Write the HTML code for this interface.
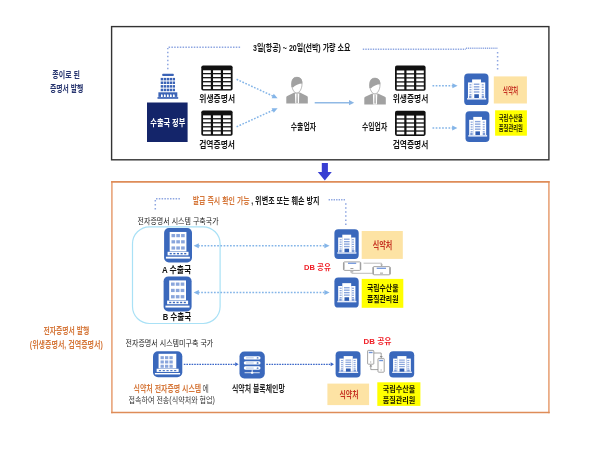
<!DOCTYPE html>
<html lang="ko"><head><meta charset="utf-8"><title>전자증명서 발행</title>
<style>
html,body{margin:0;padding:0;background:#fff;font-family:"Liberation Sans","Noto Sans CJK KR",sans-serif;}
body{width:600px;height:454px;overflow:hidden;}
svg{display:block;filter:blur(0.7px);}
svg text{font-family:"Liberation Sans","Noto Sans CJK KR",sans-serif;}
</style></head><body>
<svg role="img" aria-label="종이로 된 증명서 발행 / 전자증명서 발행 (위생증명서, 검역증명서)" width="600" height="454" viewBox="0 0 600 454">
<rect width="600" height="454" fill="#fff"/>
<rect x="111.6" y="26.6" width="437.3" height="133.2" fill="#fff" stroke="#333" stroke-width="1.4"/>
<path d="M111.9 181.2V413.2M548.9 181.2V413.2" stroke="#e8a47a" stroke-width="1.6" fill="none"/>
<path d="M111.1 181.9H549.7M111.1 412.5H549.7" stroke="#de8c58" stroke-width="1.6" fill="none"/>
<text x="66.2" y="77.8" font-size="9.3" font-weight="bold" fill="#27356f" text-anchor="middle" textLength="27.7" lengthAdjust="spacingAndGlyphs">종이로 된</text>
<text x="66.7" y="91.8" font-size="9.3" font-weight="bold" fill="#27356f" text-anchor="middle" textLength="33.4" lengthAdjust="spacingAndGlyphs">증명서 발행</text>
<text x="66.3" y="334.3" font-size="9" font-weight="bold" fill="#d6793d" text-anchor="middle" textLength="45.8" lengthAdjust="spacingAndGlyphs">전자증명서 발행</text>
<text x="66.3" y="348" font-size="9" font-weight="bold" fill="#d6793d" text-anchor="middle" textLength="73" lengthAdjust="spacingAndGlyphs">(위생증명서, 검역증명서)</text>
<path d="M167.8 69.35V48" fill="none" stroke="#8ea6e1" stroke-width="1.5" stroke-dasharray="1.5 2.5"/>
<path d="M168.6 47.3H240.5" fill="none" stroke="#8ea6e1" stroke-width="1.5" stroke-dasharray="1.5 1.3"/>
<path d="M362.8 49.2H466" fill="none" stroke="#8ea6e1" stroke-width="1.5" stroke-dasharray="1.4 1.1"/>
<path d="M466 48.3H497.4" fill="none" stroke="#8ea6e1" stroke-width="1.5" stroke-dasharray="1.1 0.8"/>
<path d="M497.6 52.05V72" fill="none" stroke="#8ea6e1" stroke-width="1.5" stroke-dasharray="1.5 2.5"/>
<text x="301.7" y="51" font-size="9" font-weight="bold" fill="#111" text-anchor="middle" textLength="97.4" lengthAdjust="spacingAndGlyphs">3일(항공) ~ 20일(선박) 가량 소요</text>
<rect x="162.2" y="73.7" width="11.6" height="2.4" fill="#3b63b6" rx="0.8" />
<rect x="160.7" y="77.9" width="2.4" height="2.5" fill="#3b63b6" />
<rect x="163.68" y="77.9" width="2.4" height="2.5" fill="#3b63b6" />
<rect x="166.66" y="77.9" width="2.4" height="2.5" fill="#3b63b6" />
<rect x="169.64" y="77.9" width="2.4" height="2.5" fill="#3b63b6" />
<rect x="172.62" y="77.9" width="2.4" height="2.5" fill="#3b63b6" />
<rect x="160.7" y="81.5" width="2.4" height="2.5" fill="#3b63b6" />
<rect x="163.68" y="81.5" width="2.4" height="2.5" fill="#3b63b6" />
<rect x="166.66" y="81.5" width="2.4" height="2.5" fill="#3b63b6" />
<rect x="169.64" y="81.5" width="2.4" height="2.5" fill="#3b63b6" />
<rect x="172.62" y="81.5" width="2.4" height="2.5" fill="#3b63b6" />
<rect x="160.7" y="85.1" width="2.4" height="2.5" fill="#3b63b6" />
<rect x="163.68" y="85.1" width="2.4" height="2.5" fill="#3b63b6" />
<rect x="166.66" y="85.1" width="2.4" height="2.5" fill="#3b63b6" />
<rect x="169.64" y="85.1" width="2.4" height="2.5" fill="#3b63b6" />
<rect x="172.62" y="85.1" width="2.4" height="2.5" fill="#3b63b6" />
<rect x="160.7" y="88.7" width="2.4" height="2.5" fill="#3b63b6" />
<rect x="163.68" y="88.7" width="2.4" height="2.5" fill="#3b63b6" />
<rect x="166.66" y="88.7" width="2.4" height="2.5" fill="#3b63b6" />
<rect x="169.64" y="88.7" width="2.4" height="2.5" fill="#3b63b6" />
<rect x="172.62" y="88.7" width="2.4" height="2.5" fill="#3b63b6" />
<rect x="158.4" y="92.3" width="18.9" height="4.6" fill="#3b63b6" />
<path d="M161 96.9V95L161.85 94L162.7 95V96.9Z" fill="#fff"/>
<path d="M164 96.9V95L164.85 94L165.7 95V96.9Z" fill="#fff"/>
<path d="M167 96.9V95L167.85 94L168.7 95V96.9Z" fill="#fff"/>
<path d="M170 96.9V95L170.85 94L171.7 95V96.9Z" fill="#fff"/>
<path d="M173 96.9V95L173.85 94L174.7 95V96.9Z" fill="#fff"/>
<rect x="157.5" y="97.1" width="20.7" height="1.7" fill="#3b63b6" />
<rect x="147" y="102.5" width="40.6" height="39.5" fill="#14256a" />
<text x="167.8" y="126.3" font-size="9.5" font-weight="bold" fill="#fff" text-anchor="middle" textLength="35" lengthAdjust="spacingAndGlyphs">수출국 정부</text>
<rect x="201.3" y="65.4" width="31.3" height="25.2" fill="#111" rx="1.8" />
<rect x="203.05" y="70.3" width="7.78" height="2.72" fill="#fff" />
<rect x="213.03" y="70.3" width="7.78" height="2.72" fill="#fff" />
<rect x="223.02" y="70.3" width="7.78" height="2.72" fill="#fff" />
<rect x="203.05" y="74.32" width="7.78" height="2.72" fill="#fff" />
<rect x="213.03" y="74.32" width="7.78" height="2.72" fill="#fff" />
<rect x="223.02" y="74.32" width="7.78" height="2.72" fill="#fff" />
<rect x="203.05" y="78.34" width="7.78" height="2.72" fill="#fff" />
<rect x="213.03" y="78.34" width="7.78" height="2.72" fill="#fff" />
<rect x="223.02" y="78.34" width="7.78" height="2.72" fill="#fff" />
<rect x="203.05" y="82.36" width="7.78" height="2.72" fill="#fff" />
<rect x="213.03" y="82.36" width="7.78" height="2.72" fill="#fff" />
<rect x="223.02" y="82.36" width="7.78" height="2.72" fill="#fff" />
<rect x="203.05" y="86.38" width="7.78" height="2.72" fill="#fff" />
<rect x="213.03" y="86.38" width="7.78" height="2.72" fill="#fff" />
<rect x="223.02" y="86.38" width="7.78" height="2.72" fill="#fff" />
<rect x="201.3" y="110.5" width="31.3" height="25.2" fill="#111" rx="1.8" />
<rect x="203.05" y="115.4" width="7.78" height="2.72" fill="#fff" />
<rect x="213.03" y="115.4" width="7.78" height="2.72" fill="#fff" />
<rect x="223.02" y="115.4" width="7.78" height="2.72" fill="#fff" />
<rect x="203.05" y="119.42" width="7.78" height="2.72" fill="#fff" />
<rect x="213.03" y="119.42" width="7.78" height="2.72" fill="#fff" />
<rect x="223.02" y="119.42" width="7.78" height="2.72" fill="#fff" />
<rect x="203.05" y="123.44" width="7.78" height="2.72" fill="#fff" />
<rect x="213.03" y="123.44" width="7.78" height="2.72" fill="#fff" />
<rect x="223.02" y="123.44" width="7.78" height="2.72" fill="#fff" />
<rect x="203.05" y="127.46" width="7.78" height="2.72" fill="#fff" />
<rect x="213.03" y="127.46" width="7.78" height="2.72" fill="#fff" />
<rect x="223.02" y="127.46" width="7.78" height="2.72" fill="#fff" />
<rect x="203.05" y="131.48" width="7.78" height="2.72" fill="#fff" />
<rect x="213.03" y="131.48" width="7.78" height="2.72" fill="#fff" />
<rect x="223.02" y="131.48" width="7.78" height="2.72" fill="#fff" />
<rect x="395" y="65.6" width="30.6" height="25.2" fill="#111" rx="1.8" />
<rect x="396.75" y="70.5" width="7.55" height="2.72" fill="#fff" />
<rect x="406.5" y="70.5" width="7.55" height="2.72" fill="#fff" />
<rect x="416.25" y="70.5" width="7.55" height="2.72" fill="#fff" />
<rect x="396.75" y="74.52" width="7.55" height="2.72" fill="#fff" />
<rect x="406.5" y="74.52" width="7.55" height="2.72" fill="#fff" />
<rect x="416.25" y="74.52" width="7.55" height="2.72" fill="#fff" />
<rect x="396.75" y="78.54" width="7.55" height="2.72" fill="#fff" />
<rect x="406.5" y="78.54" width="7.55" height="2.72" fill="#fff" />
<rect x="416.25" y="78.54" width="7.55" height="2.72" fill="#fff" />
<rect x="396.75" y="82.56" width="7.55" height="2.72" fill="#fff" />
<rect x="406.5" y="82.56" width="7.55" height="2.72" fill="#fff" />
<rect x="416.25" y="82.56" width="7.55" height="2.72" fill="#fff" />
<rect x="396.75" y="86.58" width="7.55" height="2.72" fill="#fff" />
<rect x="406.5" y="86.58" width="7.55" height="2.72" fill="#fff" />
<rect x="416.25" y="86.58" width="7.55" height="2.72" fill="#fff" />
<rect x="395" y="110.7" width="30.6" height="25.2" fill="#111" rx="1.8" />
<rect x="396.75" y="115.6" width="7.55" height="2.72" fill="#fff" />
<rect x="406.5" y="115.6" width="7.55" height="2.72" fill="#fff" />
<rect x="416.25" y="115.6" width="7.55" height="2.72" fill="#fff" />
<rect x="396.75" y="119.62" width="7.55" height="2.72" fill="#fff" />
<rect x="406.5" y="119.62" width="7.55" height="2.72" fill="#fff" />
<rect x="416.25" y="119.62" width="7.55" height="2.72" fill="#fff" />
<rect x="396.75" y="123.64" width="7.55" height="2.72" fill="#fff" />
<rect x="406.5" y="123.64" width="7.55" height="2.72" fill="#fff" />
<rect x="416.25" y="123.64" width="7.55" height="2.72" fill="#fff" />
<rect x="396.75" y="127.66" width="7.55" height="2.72" fill="#fff" />
<rect x="406.5" y="127.66" width="7.55" height="2.72" fill="#fff" />
<rect x="416.25" y="127.66" width="7.55" height="2.72" fill="#fff" />
<rect x="396.75" y="131.68" width="7.55" height="2.72" fill="#fff" />
<rect x="406.5" y="131.68" width="7.55" height="2.72" fill="#fff" />
<rect x="416.25" y="131.68" width="7.55" height="2.72" fill="#fff" />
<text x="217.2" y="101.9" font-size="9" font-weight="bold" fill="#161616" text-anchor="middle" textLength="35.7" lengthAdjust="spacingAndGlyphs">위생증명서</text>
<text x="217.1" y="147.5" font-size="9" font-weight="bold" fill="#161616" text-anchor="middle" textLength="35.8" lengthAdjust="spacingAndGlyphs">검역증명서</text>
<text x="410.5" y="101.7" font-size="9" font-weight="bold" fill="#161616" text-anchor="middle" textLength="35.7" lengthAdjust="spacingAndGlyphs">위생증명서</text>
<text x="410.5" y="147.8" font-size="9" font-weight="bold" fill="#161616" text-anchor="middle" textLength="35.7" lengthAdjust="spacingAndGlyphs">검역증명서</text>
<path d="M236.6 79.3L273 96.1" fill="none" stroke="#84b5e8" stroke-width="1.5" stroke-dasharray="1.7 1.5"/>
<path d="M277.6 98.2L271.65 98.21L273.75 93.67Z" fill="#84b5e8"/>
<path d="M236.6 126.8L273 110.2" fill="none" stroke="#84b5e8" stroke-width="1.5" stroke-dasharray="1.7 1.5"/>
<path d="M277.6 108.2L273.72 112.71L271.65 108.16Z" fill="#84b5e8"/>
<g transform="translate(0 0)">
<path d="M286.3 103.5V97.3Q286.3 96.3 287.3 95.9L294.3 92.6H299.9L306.9 95.9Q307.8 96.3 307.8 97.3V103.5Z" fill="#a1a1a1"/>
<path d="M294.9 93.4L299.3 93.4L298.9 103.5L295.3 103.5Z" fill="#fff"/>
<path d="M296.5 93.8H297.7L298 102.2L297.1 103.3L296.2 102.2Z" fill="#b4b4b4"/>
<path d="M291.7 84C291.7 79.5 293.5 77.3 296.8 77.3C300.1 77.3 302 79.5 302 84C302 88.6 299.7 92.9 296.8 92.9C293.9 92.9 291.7 88.6 291.7 84Z" fill="#fff" stroke="#a1a1a1" stroke-width="0.75"/>
<path d="M291.5 87C291 80.2 292.9 77 296.8 77C300.8 77 302.6 79.6 302.3 83.4C299 83.6 294.8 85 293 87.4Z" fill="#a1a1a1"/>
</g>
<g transform="translate(78 0.9)">
<path d="M286.3 103.5V97.3Q286.3 96.3 287.3 95.9L294.3 92.6H299.9L306.9 95.9Q307.8 96.3 307.8 97.3V103.5Z" fill="#a1a1a1"/>
<path d="M294.9 93.4L299.3 93.4L298.9 103.5L295.3 103.5Z" fill="#fff"/>
<path d="M296.5 93.8H297.7L298 102.2L297.1 103.3L296.2 102.2Z" fill="#b4b4b4"/>
<path d="M291.7 84C291.7 79.5 293.5 77.3 296.8 77.3C300.1 77.3 302 79.5 302 84C302 88.6 299.7 92.9 296.8 92.9C293.9 92.9 291.7 88.6 291.7 84Z" fill="#fff" stroke="#a1a1a1" stroke-width="0.75"/>
<path d="M291.5 87C291 80.2 292.9 77 296.8 77C300.8 77 302.6 79.6 302.3 83.4C299 83.6 294.8 85 293 87.4Z" fill="#a1a1a1"/>
</g>
<path d="M314.7 102.7H350" stroke="#90b9e5" stroke-width="1.5" fill="none"/>
<path d="M354.2 102.7L349 105.3L349 100.1Z" fill="#8ab5e4"/>
<text x="303.4" y="130" font-size="9.5" font-weight="bold" fill="#1a1a1a" text-anchor="middle" textLength="25.2" lengthAdjust="spacingAndGlyphs">수출업자</text>
<text x="374.6" y="130" font-size="9.5" font-weight="bold" fill="#1a1a1a" text-anchor="middle" textLength="25.2" lengthAdjust="spacingAndGlyphs">수입업자</text>
<path d="M432.5 85.8H453" fill="none" stroke="#84b5e8" stroke-width="1.5" stroke-dasharray="1.7 1.5"/>
<path d="M457.6 85.8L452.4 88.3L452.4 83.3Z" fill="#84b5e8"/>
<path d="M432.5 127.9H453" fill="none" stroke="#84b5e8" stroke-width="1.5" stroke-dasharray="1.7 1.5"/>
<path d="M457.4 127.9L452.2 130.4L452.2 125.4Z" fill="#84b5e8"/>
<rect x="464.2" y="73.6" width="24.3" height="31.5" fill="#3a68bc" rx="3.89" />
<rect x="467.97" y="82.42" width="4.25" height="15.59" fill="#fff" />
<rect x="480.97" y="82.42" width="4.25" height="15.59" fill="#fff" />
<rect x="472.1" y="79.43" width="8.87" height="18.58" fill="#fff" />
<rect x="467.12" y="98.01" width="19.08" height="1.58" fill="#e9eefa" />
<rect x="473.8" y="83.52" width="5.59" height="1.42" fill="#8ba6dc" />
<rect x="473.8" y="86.11" width="5.59" height="1.42" fill="#8ba6dc" />
<rect x="473.8" y="88.69" width="5.59" height="1.42" fill="#8ba6dc" />
<rect x="473.8" y="91.27" width="5.59" height="1.42" fill="#8ba6dc" />
<rect x="469.42" y="84.15" width="2.07" height="1.26" fill="#8ba6dc" />
<rect x="481.7" y="84.15" width="2.07" height="1.26" fill="#8ba6dc" />
<rect x="469.42" y="86.61" width="2.07" height="1.26" fill="#8ba6dc" />
<rect x="481.7" y="86.61" width="2.07" height="1.26" fill="#8ba6dc" />
<rect x="469.42" y="89.07" width="2.07" height="1.26" fill="#8ba6dc" />
<rect x="481.7" y="89.07" width="2.07" height="1.26" fill="#8ba6dc" />
<rect x="469.42" y="91.52" width="2.07" height="1.26" fill="#8ba6dc" />
<rect x="481.7" y="91.52" width="2.07" height="1.26" fill="#8ba6dc" />
<rect x="469.42" y="93.98" width="2.07" height="1.26" fill="#8ba6dc" />
<rect x="481.7" y="93.98" width="2.07" height="1.26" fill="#8ba6dc" />
<rect x="469.06" y="95.65" width="2.43" height="2.36" fill="#7d9bd6" />
<rect x="481.7" y="95.65" width="2.43" height="2.36" fill="#7d9bd6" />
<rect x="474.28" y="94.23" width="4.62" height="3.78" fill="#2f5cb0" />
<rect x="465.5" y="111.2" width="23.9" height="30.8" fill="#3a68bc" rx="3.82" />
<rect x="469.2" y="119.82" width="4.18" height="15.25" fill="#fff" />
<rect x="481.99" y="119.82" width="4.18" height="15.25" fill="#fff" />
<rect x="473.27" y="116.9" width="8.72" height="18.17" fill="#fff" />
<rect x="468.37" y="135.07" width="18.76" height="1.54" fill="#e9eefa" />
<rect x="474.94" y="120.9" width="5.5" height="1.39" fill="#8ba6dc" />
<rect x="474.94" y="123.43" width="5.5" height="1.39" fill="#8ba6dc" />
<rect x="474.94" y="125.95" width="5.5" height="1.39" fill="#8ba6dc" />
<rect x="474.94" y="128.48" width="5.5" height="1.39" fill="#8ba6dc" />
<rect x="470.64" y="121.52" width="2.03" height="1.23" fill="#8ba6dc" />
<rect x="482.71" y="121.52" width="2.03" height="1.23" fill="#8ba6dc" />
<rect x="470.64" y="123.92" width="2.03" height="1.23" fill="#8ba6dc" />
<rect x="482.71" y="123.92" width="2.03" height="1.23" fill="#8ba6dc" />
<rect x="470.64" y="126.32" width="2.03" height="1.23" fill="#8ba6dc" />
<rect x="482.71" y="126.32" width="2.03" height="1.23" fill="#8ba6dc" />
<rect x="470.64" y="128.73" width="2.03" height="1.23" fill="#8ba6dc" />
<rect x="482.71" y="128.73" width="2.03" height="1.23" fill="#8ba6dc" />
<rect x="470.64" y="131.13" width="2.03" height="1.23" fill="#8ba6dc" />
<rect x="482.71" y="131.13" width="2.03" height="1.23" fill="#8ba6dc" />
<rect x="470.28" y="132.76" width="2.39" height="2.31" fill="#7d9bd6" />
<rect x="482.71" y="132.76" width="2.39" height="2.31" fill="#7d9bd6" />
<rect x="475.42" y="131.37" width="4.54" height="3.7" fill="#2f5cb0" />
<rect x="493.8" y="76.4" width="33.1" height="27.1" fill="#fde3a4" />
<text x="510.5" y="93.6" font-size="9.5" font-weight="bold" fill="#c63223" text-anchor="middle" textLength="15.4" lengthAdjust="spacingAndGlyphs">식약처</text>
<rect x="495.1" y="110.3" width="31.8" height="25.4" fill="#ffff00" />
<text x="510.8" y="120.9" font-size="7.5" font-weight="bold" fill="#1a1a00" text-anchor="middle" textLength="24" lengthAdjust="spacingAndGlyphs">국립수산물</text>
<text x="510.8" y="130.5" font-size="7.5" font-weight="bold" fill="#1a1a00" text-anchor="middle" textLength="24" lengthAdjust="spacingAndGlyphs">품질관리원</text>
<path d="M321.8 162.9H327.9V172.1H331.8L324.8 180.6L317.8 172.1H321.8Z" fill="#383ed2"/>
<path d="M155.3 209.5V200" fill="none" stroke="#8ea6e1" stroke-width="1.5" stroke-dasharray="1.5 2.5"/>
<path d="M156 198.8H180" fill="none" stroke="#8ea6e1" stroke-width="1.5" stroke-dasharray="1.5 1.3"/>
<path d="M328.6 199.8H346" fill="none" stroke="#8ea6e1" stroke-width="1.5" stroke-dasharray="1.4 1.1"/>
<path d="M345.8 203.2V225" fill="none" stroke="#8ea6e1" stroke-width="1.5" stroke-dasharray="1.5 2.55"/>
<text x="192.7" y="204.4" font-size="9" font-weight="bold" fill="#d6793d" textLength="57" lengthAdjust="spacingAndGlyphs">발급 즉시 확인 가능</text>
<text x="251.2" y="204.4" font-size="9" font-weight="bold" fill="#161616" textLength="68.4" lengthAdjust="spacingAndGlyphs">, 위변조 또는 훼손 방지</text>
<text x="137.6" y="224.2" font-size="8.5" fill="#222" textLength="81" lengthAdjust="spacingAndGlyphs">전자증명서 시스템 구축국가</text>
<rect x="132.5" y="226.8" width="87.6" height="96.7" rx="17" fill="none" stroke="#a9e1f6" stroke-width="1.2"/>
<rect x="164.1" y="228" width="27.9" height="34.4" fill="#3a68bc" rx="4.74" />
<rect x="169.68" y="231.96" width="16.74" height="19.44" fill="#fff" />
<rect x="171.49" y="234.02" width="3.63" height="3.2" fill="#8aa6dc" />
<rect x="176.29" y="234.02" width="3.63" height="3.2" fill="#8aa6dc" />
<rect x="181.09" y="234.02" width="3.63" height="3.2" fill="#8aa6dc" />
<rect x="171.49" y="240.21" width="3.63" height="3.2" fill="#8aa6dc" />
<rect x="176.29" y="240.21" width="3.63" height="3.2" fill="#8aa6dc" />
<rect x="181.09" y="240.21" width="3.63" height="3.2" fill="#8aa6dc" />
<rect x="171.49" y="246.4" width="3.63" height="3.2" fill="#8aa6dc" />
<rect x="176.29" y="246.4" width="3.63" height="3.2" fill="#8aa6dc" />
<rect x="181.09" y="246.4" width="3.63" height="3.2" fill="#8aa6dc" />
<rect x="167.59" y="251.8" width="20.92" height="3.54" fill="#fff" />
<rect x="169.68" y="252.94" width="2.09" height="1.38" fill="#3a68bc" />
<rect x="173.31" y="252.94" width="2.09" height="1.38" fill="#3a68bc" />
<rect x="176.93" y="252.94" width="2.09" height="1.38" fill="#3a68bc" />
<rect x="180.56" y="252.94" width="2.09" height="1.38" fill="#3a68bc" />
<rect x="184.19" y="252.94" width="2.09" height="1.38" fill="#3a68bc" />
<rect x="165.91" y="256.72" width="23.99" height="1.89" fill="#fff" />
<rect x="163.6" y="276.4" width="28" height="35" fill="#3a68bc" rx="4.76" />
<rect x="169.2" y="280.42" width="16.8" height="19.78" fill="#fff" />
<rect x="171.02" y="282.52" width="3.64" height="3.25" fill="#8aa6dc" />
<rect x="175.84" y="282.52" width="3.64" height="3.25" fill="#8aa6dc" />
<rect x="180.65" y="282.52" width="3.64" height="3.25" fill="#8aa6dc" />
<rect x="171.02" y="288.82" width="3.64" height="3.25" fill="#8aa6dc" />
<rect x="175.84" y="288.82" width="3.64" height="3.25" fill="#8aa6dc" />
<rect x="180.65" y="288.82" width="3.64" height="3.25" fill="#8aa6dc" />
<rect x="171.02" y="295.12" width="3.64" height="3.25" fill="#8aa6dc" />
<rect x="175.84" y="295.12" width="3.64" height="3.25" fill="#8aa6dc" />
<rect x="180.65" y="295.12" width="3.64" height="3.25" fill="#8aa6dc" />
<rect x="167.1" y="300.62" width="21" height="3.6" fill="#fff" />
<rect x="169.2" y="301.77" width="2.1" height="1.4" fill="#3a68bc" />
<rect x="172.84" y="301.77" width="2.1" height="1.4" fill="#3a68bc" />
<rect x="176.48" y="301.77" width="2.1" height="1.4" fill="#3a68bc" />
<rect x="180.12" y="301.77" width="2.1" height="1.4" fill="#3a68bc" />
<rect x="183.76" y="301.77" width="2.1" height="1.4" fill="#3a68bc" />
<rect x="165.42" y="305.62" width="24.08" height="1.92" fill="#fff" />
<text x="161.9" y="272.8" font-size="9" font-weight="bold" fill="#111" textLength="29.4" lengthAdjust="spacingAndGlyphs">A 수출국</text>
<text x="162.7" y="320.4" font-size="9" font-weight="bold" fill="#111" textLength="28.6" lengthAdjust="spacingAndGlyphs">B 수출국</text>
<path d="M198 245.8 H325" fill="none" stroke="#84b5e8" stroke-width="1.5" stroke-dasharray="1.7 1.5"/>
<path d="M193.6 245.8L198.8 243.3L198.8 248.3Z" fill="#84b5e8"/>
<path d="M329.6 245.8L324.4 248.3L324.4 243.3Z" fill="#84b5e8"/>
<path d="M198 292.4 H325" fill="none" stroke="#84b5e8" stroke-width="1.5" stroke-dasharray="1.7 1.5"/>
<path d="M193.6 292.4L198.8 289.9L198.8 294.9Z" fill="#84b5e8"/>
<path d="M329.6 292.4L324.4 294.9L324.4 289.9Z" fill="#84b5e8"/>
<rect x="334.4" y="229.2" width="24.3" height="29.7" fill="#3a68bc" rx="3.89" />
<rect x="338.17" y="237.52" width="4.25" height="14.7" fill="#fff" />
<rect x="351.17" y="237.52" width="4.25" height="14.7" fill="#fff" />
<rect x="342.3" y="234.69" width="8.87" height="17.52" fill="#fff" />
<rect x="337.32" y="252.22" width="19.08" height="1.49" fill="#e9eefa" />
<rect x="344" y="238.56" width="5.59" height="1.34" fill="#8ba6dc" />
<rect x="344" y="240.99" width="5.59" height="1.34" fill="#8ba6dc" />
<rect x="344" y="243.43" width="5.59" height="1.34" fill="#8ba6dc" />
<rect x="344" y="245.86" width="5.59" height="1.34" fill="#8ba6dc" />
<rect x="339.62" y="239.15" width="2.07" height="1.19" fill="#8ba6dc" />
<rect x="351.9" y="239.15" width="2.07" height="1.19" fill="#8ba6dc" />
<rect x="339.62" y="241.47" width="2.07" height="1.19" fill="#8ba6dc" />
<rect x="351.9" y="241.47" width="2.07" height="1.19" fill="#8ba6dc" />
<rect x="339.62" y="243.78" width="2.07" height="1.19" fill="#8ba6dc" />
<rect x="351.9" y="243.78" width="2.07" height="1.19" fill="#8ba6dc" />
<rect x="339.62" y="246.1" width="2.07" height="1.19" fill="#8ba6dc" />
<rect x="351.9" y="246.1" width="2.07" height="1.19" fill="#8ba6dc" />
<rect x="339.62" y="248.42" width="2.07" height="1.19" fill="#8ba6dc" />
<rect x="351.9" y="248.42" width="2.07" height="1.19" fill="#8ba6dc" />
<rect x="339.26" y="249.99" width="2.43" height="2.23" fill="#7d9bd6" />
<rect x="351.9" y="249.99" width="2.43" height="2.23" fill="#7d9bd6" />
<rect x="344.48" y="248.65" width="4.62" height="3.56" fill="#2f5cb0" />
<rect x="334.4" y="277.6" width="24.3" height="30" fill="#3a68bc" rx="3.89" />
<rect x="338.17" y="286" width="4.25" height="14.85" fill="#fff" />
<rect x="351.17" y="286" width="4.25" height="14.85" fill="#fff" />
<rect x="342.3" y="283.15" width="8.87" height="17.7" fill="#fff" />
<rect x="337.32" y="300.85" width="19.08" height="1.5" fill="#e9eefa" />
<rect x="344" y="287.05" width="5.59" height="1.35" fill="#8ba6dc" />
<rect x="344" y="289.51" width="5.59" height="1.35" fill="#8ba6dc" />
<rect x="344" y="291.97" width="5.59" height="1.35" fill="#8ba6dc" />
<rect x="344" y="294.43" width="5.59" height="1.35" fill="#8ba6dc" />
<rect x="339.62" y="287.65" width="2.07" height="1.2" fill="#8ba6dc" />
<rect x="351.9" y="287.65" width="2.07" height="1.2" fill="#8ba6dc" />
<rect x="339.62" y="289.99" width="2.07" height="1.2" fill="#8ba6dc" />
<rect x="351.9" y="289.99" width="2.07" height="1.2" fill="#8ba6dc" />
<rect x="339.62" y="292.33" width="2.07" height="1.2" fill="#8ba6dc" />
<rect x="351.9" y="292.33" width="2.07" height="1.2" fill="#8ba6dc" />
<rect x="339.62" y="294.67" width="2.07" height="1.2" fill="#8ba6dc" />
<rect x="351.9" y="294.67" width="2.07" height="1.2" fill="#8ba6dc" />
<rect x="339.62" y="297.01" width="2.07" height="1.2" fill="#8ba6dc" />
<rect x="351.9" y="297.01" width="2.07" height="1.2" fill="#8ba6dc" />
<rect x="339.26" y="298.6" width="2.43" height="2.25" fill="#7d9bd6" />
<rect x="351.9" y="298.6" width="2.43" height="2.25" fill="#7d9bd6" />
<rect x="344.48" y="297.25" width="4.62" height="3.6" fill="#2f5cb0" />
<rect x="361.7" y="231" width="41.1" height="27.9" fill="#fde3a4" />
<text x="382.5" y="249.4" font-size="10" font-weight="bold" fill="#c63223" text-anchor="middle" textLength="19.5" lengthAdjust="spacingAndGlyphs">식약처</text>
<text x="304" y="269.9" font-size="8" font-weight="bold" fill="#f01c24" textLength="26.8" lengthAdjust="spacingAndGlyphs">DB 공유</text>
<g fill="none" stroke="#b4b4b4" stroke-width="0.9">
<path d="M363.6 263.2H381.6V266"/>
<path d="M351.8 270.6V273.3H372.6"/>
</g>
<path d="M381.6 266.6l-1.4-2h2.8z" fill="#aaa"/>
<g fill="#fff" stroke="#a6a6a6" stroke-width="1">
<rect x="343.7" y="261.9" width="16.8" height="8.5" rx="0.8"/>
<rect x="373.2" y="266.6" width="16.8" height="8.2" rx="0.8"/>
</g>
<path d="M343.7 262.5V269.8M360.5 262.5V269.8M373.2 267.2V274.2M390 267.2V274.2" stroke="#a0a0a0" stroke-width="1.5" fill="none"/>
<rect x="348" y="262.7" width="8.2" height="1.1" fill="#5b86d8" />
<rect x="376.7" y="267.7" width="9.3" height="1.1" fill="#5b86d8" />
<rect x="350.4" y="268.2" width="3" height="0.8" fill="#888" />
<rect x="380" y="272.7" width="3" height="0.8" fill="#888" />
<rect x="350.3" y="270.6" width="3" height="2" fill="#bbb" />
<rect x="361.7" y="278.9" width="41.6" height="28.9" fill="#ffff00" />
<text x="382.7" y="290.6" font-size="8.5" font-weight="bold" fill="#1a1a00" text-anchor="middle" textLength="31.6" lengthAdjust="spacingAndGlyphs">국립수산물</text>
<text x="382.7" y="302" font-size="8.5" font-weight="bold" fill="#1a1a00" text-anchor="middle" textLength="31.6" lengthAdjust="spacingAndGlyphs">품질관리원</text>
<text x="125.5" y="346.4" font-size="8.5" fill="#222" textLength="87.8" lengthAdjust="spacingAndGlyphs">전자증명서 시스템미구축 국가</text>
<rect x="153" y="351.2" width="29.3" height="26.1" fill="#3a68bc" rx="4.98" />
<rect x="158.57" y="353.81" width="17.73" height="14.62" fill="#fff" />
<rect x="160.53" y="356.16" width="3.31" height="3" fill="#8aa6dc" />
<rect x="164.98" y="356.16" width="3.31" height="3" fill="#8aa6dc" />
<rect x="169.44" y="356.16" width="3.31" height="3" fill="#8aa6dc" />
<rect x="160.53" y="360.47" width="3.31" height="3" fill="#8aa6dc" />
<rect x="164.98" y="360.47" width="3.31" height="3" fill="#8aa6dc" />
<rect x="169.44" y="360.47" width="3.31" height="3" fill="#8aa6dc" />
<rect x="160.53" y="364.77" width="3.31" height="3" fill="#8aa6dc" />
<rect x="164.98" y="364.77" width="3.31" height="3" fill="#8aa6dc" />
<rect x="169.44" y="364.77" width="3.31" height="3" fill="#8aa6dc" />
<rect x="156.66" y="368.74" width="21.98" height="3.21" fill="#fff" />
<rect x="158.86" y="370.12" width="2.2" height="1.04" fill="#3a68bc" />
<rect x="162.67" y="370.12" width="2.2" height="1.04" fill="#3a68bc" />
<rect x="166.48" y="370.12" width="2.2" height="1.04" fill="#3a68bc" />
<rect x="170.29" y="370.12" width="2.2" height="1.04" fill="#3a68bc" />
<rect x="174.1" y="370.12" width="2.2" height="1.04" fill="#3a68bc" />
<rect x="154.9" y="372.99" width="25.2" height="1.44" fill="#fff" />
<path d="M183.8 364.3H235.5" fill="none" stroke="#3a66c8" stroke-width="1.35" stroke-dasharray="1.6 1.0"/>
<path d="M238.6 364.3L235.2 366.25L235.2 362.35Z" fill="#3a66c8"/>
<rect x="239.5" y="351.6" width="25.3" height="26.8" fill="#3a68bc" rx="4.81" />
<rect x="243.8" y="356.16" width="16.7" height="3.35" fill="#fff" rx="1.61" />
<rect x="246.08" y="357.5" width="7.59" height="0.75" fill="#9db6e2" />
<rect x="256.7" y="357.23" width="1.77" height="1.34" fill="#3a68bc" rx="0.5" />
<rect x="243.8" y="361.25" width="16.7" height="3.35" fill="#fff" rx="1.61" />
<rect x="246.08" y="362.59" width="7.59" height="0.75" fill="#9db6e2" />
<rect x="256.7" y="362.32" width="1.77" height="1.34" fill="#3a68bc" rx="0.5" />
<rect x="243.8" y="366.34" width="16.7" height="3.35" fill="#fff" rx="1.61" />
<rect x="246.08" y="367.68" width="7.59" height="0.75" fill="#9db6e2" />
<rect x="256.7" y="367.41" width="1.77" height="1.34" fill="#3a68bc" rx="0.5" />
<rect x="251.77" y="369.56" width="0.76" height="3.48" fill="#fff" />
<rect x="244.56" y="372.37" width="15.18" height="0.8" fill="#fff" />
<rect x="250.88" y="371.83" width="2.53" height="1.88" fill="#fff" rx="0.8" />
<path d="M266.3 364.3H331" fill="none" stroke="#3a66c8" stroke-width="1.35" stroke-dasharray="1.6 1.0"/>
<path d="M334 364.3L330.6 366.25L330.6 362.35Z" fill="#3a66c8"/>
<rect x="335.6" y="351.2" width="24.9" height="26.4" fill="#3a68bc" rx="3.98" />
<rect x="339.46" y="358.59" width="4.36" height="13.07" fill="#fff" />
<rect x="352.78" y="358.59" width="4.36" height="13.07" fill="#fff" />
<rect x="343.69" y="356.08" width="9.09" height="15.58" fill="#fff" />
<rect x="338.59" y="371.66" width="19.55" height="1.32" fill="#e9eefa" />
<rect x="345.44" y="359.52" width="5.73" height="1.19" fill="#8ba6dc" />
<rect x="345.44" y="361.68" width="5.73" height="1.19" fill="#8ba6dc" />
<rect x="345.44" y="363.85" width="5.73" height="1.19" fill="#8ba6dc" />
<rect x="345.44" y="366.01" width="5.73" height="1.19" fill="#8ba6dc" />
<rect x="340.95" y="360.04" width="2.12" height="1.06" fill="#8ba6dc" />
<rect x="353.53" y="360.04" width="2.12" height="1.06" fill="#8ba6dc" />
<rect x="340.95" y="362.1" width="2.12" height="1.06" fill="#8ba6dc" />
<rect x="353.53" y="362.1" width="2.12" height="1.06" fill="#8ba6dc" />
<rect x="340.95" y="364.16" width="2.12" height="1.06" fill="#8ba6dc" />
<rect x="353.53" y="364.16" width="2.12" height="1.06" fill="#8ba6dc" />
<rect x="340.95" y="366.22" width="2.12" height="1.06" fill="#8ba6dc" />
<rect x="353.53" y="366.22" width="2.12" height="1.06" fill="#8ba6dc" />
<rect x="340.95" y="368.28" width="2.12" height="1.06" fill="#8ba6dc" />
<rect x="353.53" y="368.28" width="2.12" height="1.06" fill="#8ba6dc" />
<rect x="340.58" y="369.68" width="2.49" height="1.98" fill="#7d9bd6" />
<rect x="353.53" y="369.68" width="2.49" height="1.98" fill="#7d9bd6" />
<rect x="345.93" y="368.49" width="4.73" height="3.17" fill="#2f5cb0" />
<rect x="389.2" y="351.2" width="25" height="26.4" fill="#3a68bc" rx="4" />
<rect x="393.07" y="358.59" width="4.38" height="13.07" fill="#fff" />
<rect x="406.45" y="358.59" width="4.38" height="13.07" fill="#fff" />
<rect x="397.32" y="356.08" width="9.12" height="15.58" fill="#fff" />
<rect x="392.2" y="371.66" width="19.62" height="1.32" fill="#e9eefa" />
<rect x="399.07" y="359.52" width="5.75" height="1.19" fill="#8ba6dc" />
<rect x="399.07" y="361.68" width="5.75" height="1.19" fill="#8ba6dc" />
<rect x="399.07" y="363.85" width="5.75" height="1.19" fill="#8ba6dc" />
<rect x="399.07" y="366.01" width="5.75" height="1.19" fill="#8ba6dc" />
<rect x="394.57" y="360.04" width="2.12" height="1.06" fill="#8ba6dc" />
<rect x="407.2" y="360.04" width="2.12" height="1.06" fill="#8ba6dc" />
<rect x="394.57" y="362.1" width="2.12" height="1.06" fill="#8ba6dc" />
<rect x="407.2" y="362.1" width="2.12" height="1.06" fill="#8ba6dc" />
<rect x="394.57" y="364.16" width="2.12" height="1.06" fill="#8ba6dc" />
<rect x="407.2" y="364.16" width="2.12" height="1.06" fill="#8ba6dc" />
<rect x="394.57" y="366.22" width="2.12" height="1.06" fill="#8ba6dc" />
<rect x="407.2" y="366.22" width="2.12" height="1.06" fill="#8ba6dc" />
<rect x="394.57" y="368.28" width="2.12" height="1.06" fill="#8ba6dc" />
<rect x="407.2" y="368.28" width="2.12" height="1.06" fill="#8ba6dc" />
<rect x="394.2" y="369.68" width="2.5" height="1.98" fill="#7d9bd6" />
<rect x="407.2" y="369.68" width="2.5" height="1.98" fill="#7d9bd6" />
<rect x="399.57" y="368.49" width="4.75" height="3.17" fill="#2f5cb0" />
<text x="363.6" y="344.4" font-size="8" font-weight="bold" fill="#f01c24" textLength="28" lengthAdjust="spacingAndGlyphs">DB 공유</text>
<g fill="none" stroke="#8c8c8c" stroke-width="0.8">
<rect x="367.6" y="350.4" width="6.2" height="13.8" rx="0.7" fill="#fff"/>
<rect x="378" y="358.4" width="6.2" height="13.8" rx="0.7" fill="#fff"/>
<path d="M373.8 353H381.2V356.6"/>
<path d="M378 369.6H370.8V366"/>
</g>
<path d="M381.2 358.2l-1.5-2.2h3z" fill="#8c8c8c"/>
<path d="M370.8 364.4l-1.5 2.2h3z" fill="#8c8c8c"/>
<rect x="368.8" y="351.8" width="3.8" height="1.4" fill="#6f93d6" />
<rect x="379.2" y="359.8" width="3.8" height="1.4" fill="#6f93d6" />
<rect x="370.2" y="361.6" width="1" height="0.8" fill="#777" />
<rect x="380.6" y="369.6" width="1" height="0.8" fill="#777" />
<text x="133.6" y="391.6" font-size="9" font-weight="bold" fill="#d6793d" textLength="67.6" lengthAdjust="spacingAndGlyphs">식약처 전자증명 시스템</text>
<text x="202.6" y="391.6" font-size="9" fill="#444" textLength="6.3" lengthAdjust="spacingAndGlyphs">에</text>
<text x="128.5" y="403.3" font-size="8.5" fill="#333" textLength="86.4" lengthAdjust="spacingAndGlyphs">접속하여 전송(식약처와 협업)</text>
<text x="231.9" y="391.6" font-size="9" font-weight="bold" fill="#222" textLength="53" lengthAdjust="spacingAndGlyphs">식약처 블록체인망</text>
<rect x="327.4" y="383.6" width="41.7" height="21.5" fill="#fde3a4" />
<text x="349" y="397.6" font-size="9" font-weight="bold" fill="#c63223" text-anchor="middle" textLength="18.9" lengthAdjust="spacingAndGlyphs">식약처</text>
<rect x="377.3" y="382.3" width="43.1" height="23.6" fill="#ffff00" />
<text x="399" y="392.3" font-size="8" font-weight="bold" fill="#1a1a00" text-anchor="middle" textLength="32.6" lengthAdjust="spacingAndGlyphs">국립수산물</text>
<text x="399" y="402.6" font-size="8" font-weight="bold" fill="#1a1a00" text-anchor="middle" textLength="32.6" lengthAdjust="spacingAndGlyphs">품질관리원</text>
</svg>
</body></html>
